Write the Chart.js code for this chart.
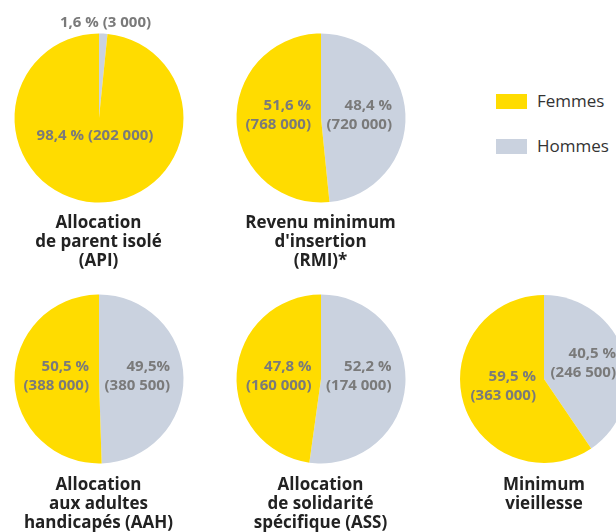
<!DOCTYPE html>
<html><head><meta charset="utf-8">
<script src="https://cdn.jsdelivr.net/npm/chart.js@4/dist/chart.umd.min.js"></script>
<style>
html,body{margin:0;padding:0;background:#fff}
body{width:616px;height:532px;overflow:hidden;position:relative;font-family:"Open Sans",sans-serif}
canvas.c{position:absolute}
.t{position:absolute;text-align:center;font-weight:bold;font-size:17px;line-height:19px;color:#222;width:240px}
.lg{position:absolute;width:31px;height:15px}
.lt{position:absolute;font-size:17px;color:#333;line-height:20px}
</style></head>
<body>
<script>
// ---- data ----
const categories = ["Hommes", "Femmes"];
const allocations = ["API", "RMI", "AAH", "ASS", "MV"];
const titles = [
  ["Allocation", "de parent isolé", "(API)"],
  ["Revenu minimum", "d'insertion", "(RMI)*"],
  ["Allocation", "aux adultes", "handicapés (AAH)"],
  ["Allocation", "de solidarité", "spécifique (ASS)"],
  ["Minimum", "vieillesse"]
];
const femmesPct = [98.4, 51.6, 50.5, 47.8, 59.5];
const hommesPct = [1.6, 48.4, 49.5, 52.2, 40.5];
const femmesPctLabel = ["98,4 %", "51,6 %", "50,5 %", "47,8 %", "59,5 %"];
const hommesPctLabel = ["1,6 %", "48,4 %", "49,5%", "52,2 %", "40,5 %"];
const femmesCount = ["(202 000)", "(768 000)", "(388 000)", "(160 000)", "(363 000)"];
const hommesCount = ["(3 000)", "(720 000)", "(380 500)", "(174 000)", "(246 500)"];

// ---- layout / style ----
const colors = {Hommes: "#cad2df", Femmes: "#ffdc00"};
const pies = [
  {cx: 98.5, cy: 117.5, r: 84.5},
  {cx: 320.5, cy: 117.5, r: 84.5},
  {cx: 98.5, cy: 379, r: 84.5},
  {cx: 320.5, cy: 379, r: 84.5},
  {cx: 544, cy: 379, r: 84}
];
// label placement relative to pie centre
const labelPos = [
  {f: {dx: -4, dy: 17.5, align: "center", single: true}, h: {dx: 6.5, dy: -95, align: "center", single: true}},
  {f: {dx: -10, dy: -12.5, align: "right"}, h: {dx: 71, dy: -12.5, align: "right"}},
  {f: {dx: -10, dy: -12, align: "right"}, h: {dx: 71, dy: -12, align: "right"}},
  {f: {dx: -9.5, dy: -12.5, align: "right"}, h: {dx: 70.5, dy: -12.5, align: "right"}},
  {f: {dx: -8, dy: -2.5, align: "right"}, h: {dx: 72, dy: -25, align: "right"}}
];

const labelPlugin = {
  id: "sliceLabels",
  afterDatasetsDraw(chart, args, opts) {
    const arc = chart.getDatasetMeta(0).data[0];
    const ctx = chart.ctx;
    ctx.save();
    ctx.font = 'bold 15px "Open Sans"';
    ctx.fillStyle = "#7a7a7a";
    ctx.textBaseline = "middle";
    opts.items.forEach(it => {
      ctx.textAlign = it.align;
      it.lines.forEach((l, i) => ctx.fillText(l, arc.x + it.dx, arc.y + it.dy + i * 19));
    });
    ctx.restore();
  }
};

const W = 260, H = 240;
allocations.forEach((a, i) => {
  const p = pies[i];
  const cv = document.createElement("canvas");
  cv.className = "c";
  cv.width = W; cv.height = H;
  cv.style.left = (p.cx - W / 2) + "px";
  cv.style.top = (p.cy - H / 2) + "px";
  cv.style.width = W + "px"; cv.style.height = H + "px";
  document.body.appendChild(cv);
  const lp = labelPos[i];
  const mk = (pos, pct, cnt) => ({
    dx: pos.dx, dy: pos.dy, align: pos.align,
    lines: pos.single ? [pct + " " + cnt] : [pct, cnt]
  });
  new Chart(cv, {
    type: "pie",
    data: {
      labels: categories,
      datasets: [{
        data: [hommesPct[i], femmesPct[i]],
        backgroundColor: categories.map(c => colors[c]),
        borderWidth: 0
      }]
    },
    options: {
      responsive: false,
      devicePixelRatio: 1,
      animation: false,
      layout: {padding: {left: W / 2 - p.r, right: W / 2 - p.r, top: H / 2 - p.r, bottom: H / 2 - p.r}},
      plugins: {
        legend: {display: false},
        tooltip: {enabled: false},
        sliceLabels: {items: [mk(lp.f, femmesPctLabel[i], femmesCount[i]), mk(lp.h, hommesPctLabel[i], hommesCount[i])]}
      }
    },
    plugins: [labelPlugin]
  });
  const t = document.createElement("div");
  t.className = "t";
  t.style.left = (p.cx - 120) + "px";
  t.style.top = (p.cy + 94.5) + "px";
  t.innerHTML = titles[i].join("<br>");
  document.body.appendChild(t);
});

// legend (Femmes first)
[["Femmes", 93.5], ["Hommes", 138.5]].forEach(([name, y]) => {
  const b = document.createElement("div");
  b.className = "lg";
  b.style.left = "496px"; b.style.top = y + "px";
  b.style.background = colors[name];
  document.body.appendChild(b);
  const tx = document.createElement("div");
  tx.className = "lt";
  tx.style.left = "537px"; tx.style.top = (y - 2.5) + "px";
  tx.textContent = name;
  document.body.appendChild(tx);
});
</script>
</body></html>
